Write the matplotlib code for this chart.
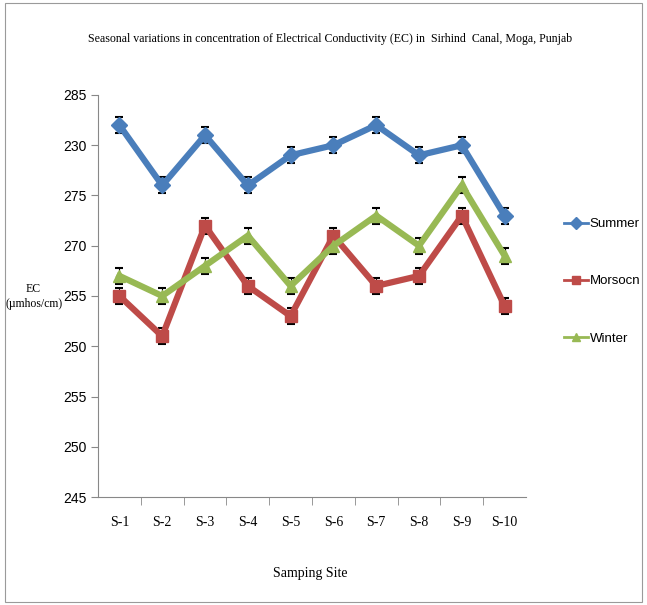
import numpy as np
import matplotlib.pyplot as plt
from matplotlib.patches import Rectangle

sites = ['S-1', 'S-2', 'S-3', 'S-4', 'S-5', 'S-6', 'S-7', 'S-8', 'S-9', 'S-10']
summer = [282, 276, 281, 276, 279, 280, 282, 279, 280, 273]
monsoon = [265, 261, 272, 266, 263, 271, 266, 267, 273, 264]
winter = [267, 265, 268, 271, 266, 270, 273, 270, 276, 269]
err = 0.8
ytick_values = [285, 280, 275, 270, 265, 260, 255, 250, 245]
ytick_labels = ['285', '230', '275', '270', '255', '250', '255', '250', '245']

serif = ['Liberation Serif', 'DejaVu Serif']
sans = ['Liberation Sans', 'DejaVu Sans']

fig = plt.figure(figsize=(6.47, 6.05), dpi=100)
fig.patches.append(Rectangle((0.008, 0.005), 0.985, 0.99, transform=fig.transFigure,
                             fill=False, edgecolor='#9a9a9a', lw=0.8))
ax = fig.add_axes([0.1515, 0.1785, 0.6615, 0.6645])

x = np.arange(len(sites))
series = [
    ('Summer', summer, '#4A7EBB', 'D'),
    ('Morsocn', monsoon, '#BE4B48', 's'),
    ('Winter', winter, '#98B954', '^'),
]
for name, vals, color, marker in series:
    ax.errorbar(x, vals, yerr=err, color=color, lw=4.5, marker=marker,
                markersize=9 if marker != 'D' else 8, ecolor='black',
                elinewidth=0.8, capsize=3, capthick=1.5, zorder=3)
    # thinner proxy line for the legend
    ax.plot([], [], color=color, lw=2, marker=marker, markersize=6, label=name)

ax.set_xlim(-0.5, len(sites) - 0.5)
ax.set_ylim(245, 285)
ax.set_yticks(ytick_values)
ax.set_yticklabels(ytick_labels, family=sans, fontsize=10)
ax.set_xticks(x)
ax.set_xticklabels(sites, family=serif, fontsize=10)
ax.set_xticks(np.arange(0.5, len(sites) - 0.5, 1), minor=True)
ax.tick_params(axis='x', which='major', length=0, pad=14)
ax.tick_params(axis='x', which='minor', length=6, color='#888888', direction='out')
ax.tick_params(axis='y', length=5, color='#888888', direction='out')
for s in ['top', 'right']:
    ax.spines[s].set_visible(False)
for s in ['left', 'bottom']:
    ax.spines[s].set_color('#888888')

fig.text(0.51, 0.935, 'Seasonal variations in concentration of Electrical Conductivity (EC) in  Sirhind  Canal, Moga, Punjab',
         ha='center', va='center', family=serif, fontsize=8.6)
fig.text(0.052, 0.51, 'EC\n(\u00b5mhos/cm)', ha='center', va='center', family=serif, fontsize=8.5,
         linespacing=1.3)
fig.text(0.48, 0.052, 'Samping Site', ha='center', va='center', family=serif, fontsize=10)

fig.legend(loc='center left', bbox_to_anchor=(0.872, 0.535), frameon=False,
           prop={'family': sans, 'size': 9.5}, labelspacing=3.4,
           handlelength=1.8, handletextpad=0.15, borderaxespad=0, borderpad=0)

fig.savefig('out.png', dpi=100)
